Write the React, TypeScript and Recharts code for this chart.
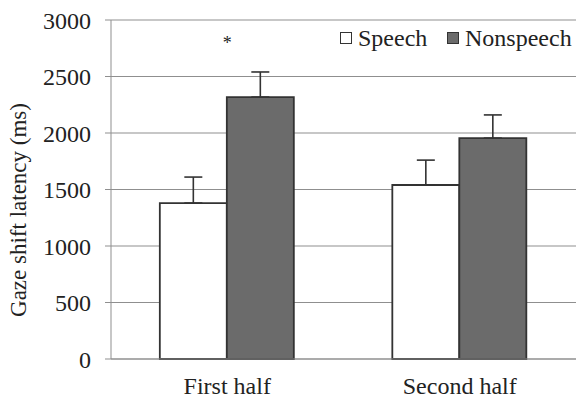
import React from "react";
import {
  BarChart, Bar, XAxis, YAxis, CartesianGrid, ErrorBar, ReferenceDot,
} from "recharts";

const CATEGORIES = ["First half", "Second half"];
const SPEECH = [1380, 1540];
const NONSPEECH = [2318, 1955];
const SPEECH_ERR = [230, 220];
const NONSPEECH_ERR = [222, 205];
const Y_TICKS = [0, 500, 1000, 1500, 2000, 2500, 3000];

const FONT = "Liberation Serif";
const INK = "#222";
const GRID = "#8f8f8f";
const DARK = "#6b6b6b";

const data = CATEGORIES.map((c, i) => ({
  name: c,
  speech: SPEECH[i],
  nonspeech: NONSPEECH[i],
  speechErr: [0, SPEECH_ERR[i]],
  nonspeechErr: [0, NONSPEECH_ERR[i]],
}));

function LegendBox() {
  const item = (fill: string, text: string, left: number) => (
    <span style={{ position: "absolute", left, top: 0, display: "inline-flex", alignItems: "center" }}>
      <span style={{
        display: "inline-block", width: 10, height: 10, background: fill,
        border: "1.5px solid #333", marginRight: 6,
      }} />
      <span>{text}</span>
    </span>
  );
  return (
    <div style={{
      position: "absolute", left: 340, top: 25, fontFamily: FONT, fontSize: 24,
      color: INK, whiteSpace: "nowrap", lineHeight: "26px",
    }}>
      {item("#fff", "Speech", 0)}
      {item(DARK, "Nonspeech", 107)}
    </div>
  );
}

export default function App() {
  return (
    <div style={{
      position: "absolute", left: 0, top: 0, width: 576, height: 410,
      background: "#fff", fontFamily: FONT, overflow: "hidden",
    }}>
      <BarChart
        width={576}
        height={410}
        data={data}
        margin={{ top: 20, right: 0, bottom: 11, left: 0 }}
        barCategoryGap="21%"
        barGap={0}
        style={{ fontFamily: FONT }}
      >
        <CartesianGrid vertical={false} stroke={GRID} strokeWidth={1.2} />
        <XAxis
          dataKey="name"
          height={40}
          stroke={GRID}
          tickLine={false}
          tick={{ fontSize: 24, fill: INK, fontFamily: FONT }}
          tickMargin={12}
        />
        <YAxis
          width={111}
          domain={[0, 3000]}
          ticks={Y_TICKS}
          interval={0}
          stroke={GRID}
          tickSize={6}
          tickMargin={14}
          tick={{ fontSize: 24, fill: INK, fontFamily: FONT }}
          label={{
            content: () => (
              <text
                x={21}
                y={210}
                transform="rotate(-90 21 210)"
                textAnchor="middle"
                dominantBaseline="middle"
                fontFamily={FONT}
                fontSize={23}
                fill={INK}
              >
                Gaze shift latency (ms)
              </text>
            ),
          }}
        />
        <Bar dataKey="speech" fill="#fff" stroke="#333" strokeWidth={1.8} isAnimationActive={false}>
          <ErrorBar dataKey="speechErr" width={9} stroke="#333" strokeWidth={1.6} />
        </Bar>
        <Bar dataKey="nonspeech" fill={DARK} stroke="#333" strokeWidth={1.8} isAnimationActive={false}>
          <ErrorBar dataKey="nonspeechErr" width={9} stroke="#333" strokeWidth={1.6} />
        </Bar>
        <ReferenceDot
          x="First half"
          y={2800}
          r={0}
          fill="none"
          stroke="none"
          label={{ value: "*", position: "center", fontSize: 18, fill: INK, fontFamily: FONT }}
        />
      </BarChart>
      <LegendBox />
    </div>
  );
}
